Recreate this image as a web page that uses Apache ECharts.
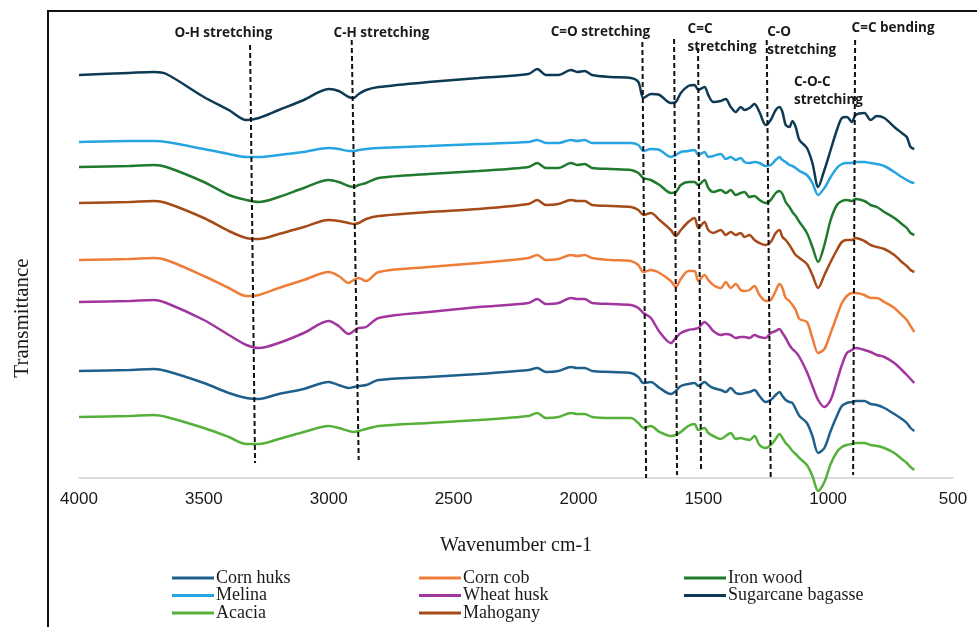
<!DOCTYPE html>
<html>
<head>
<meta charset="utf-8">
<title>FTIR spectra</title>
<script src="https://cdn.jsdelivr.net/npm/echarts@6/dist/echarts.min.js"></script>
<style>
  html, body { margin: 0; padding: 0; background: #fff; }
  #ftir_chart { width: 977px; height: 627px; }
</style>
</head>
<body>
<div id="ftir_chart"></div>
<script>
// wavenumbers (cm-1) shared by every spectrum
var wavenumbers = [
  4000, 3800, 3700, 3650, 3500, 3400, 3330, 3280, 3200, 3100,
  3000, 2960, 2920, 2900, 2880, 2850, 2800, 2600, 2400, 2200,
  2165, 2130, 2080, 2030, 2005, 1975, 1945, 1870, 1790, 1760,
  1740, 1710, 1675, 1630, 1610, 1590, 1560, 1535, 1520, 1495,
  1480, 1460, 1430, 1410, 1390, 1370, 1350, 1335, 1315, 1295,
  1275, 1250, 1230, 1210, 1195, 1183, 1170, 1155, 1143, 1130,
  1115, 1085, 1063, 1040, 1015, 990, 965, 945, 925, 905,
  890, 855, 830, 805, 775, 735, 705, 685, 670, 655
];

// transmittance (stacked, arbitrary units)
var sugarcaneBagasse = [
  403, 405, 406, 404, 381, 368, 358, 360, 368, 378,
  389, 387, 381, 380, 384, 388, 391, 396, 400, 404,
  409, 403, 403, 408, 406, 407, 403, 401, 400, 396,
  380, 384, 383, 375, 376, 385, 392, 393, 388, 391,
  383, 376, 377, 379, 371, 366, 371, 368, 370, 374,
  366, 353, 358, 368, 371, 366, 353, 351, 357, 351,
  338, 330, 315, 291, 308, 328, 348, 360, 361, 356,
  363, 365, 358, 362, 360, 351, 345, 341, 331, 329
];
var melina = [
  336, 337, 337, 336, 329, 324, 321, 321, 323, 326,
  330, 329, 327, 327, 328, 329, 330, 332, 334, 336,
  338, 335, 335, 338, 337, 338, 335, 335, 335, 333,
  327, 329, 328, 321, 323, 326, 327, 328, 323, 326,
  321, 322, 324, 319, 321, 318, 320, 316, 315, 316,
  315, 312, 313, 318, 321, 318, 316, 313, 312, 310,
  307, 303, 295, 283, 290, 301, 310, 314, 315, 315,
  316, 316, 315, 314, 312, 306, 301, 298, 296, 295
];
var ironWood = [
  311, 312, 313, 311, 296, 283, 278, 276, 281, 290,
  298, 296, 292, 291, 293, 295, 300, 304, 307, 311,
  315, 310, 310, 315, 313, 314, 310, 309, 308, 305,
  300, 298, 293, 285, 286, 293, 296, 296, 293, 298,
  290, 286, 288, 285, 288, 283, 285, 286, 281, 282,
  278, 275, 278, 285, 287, 284, 276, 271, 266, 262,
  256, 245, 231, 216, 233, 258, 273, 277, 278, 277,
  279, 277, 273, 271, 266, 260, 254, 250, 245, 243
];
var mahogany = [
  275, 276, 277, 275, 260, 247, 240, 239, 244, 251,
  258, 257, 255, 254, 255, 259, 262, 266, 269, 274,
  278, 273, 274, 278, 277, 277, 273, 272, 271, 268,
  263, 265, 258, 248, 242, 248, 256, 260, 250, 256,
  248, 245, 248, 243, 246, 243, 245, 241, 243, 238,
  235, 233, 236, 245, 248, 241, 238, 233, 228, 223,
  220, 214, 203, 190, 203, 216, 228, 236, 238, 238,
  240, 237, 233, 231, 229, 223, 216, 212, 208, 206
];
var cornCob = [
  218, 219, 220, 218, 202, 190, 182, 183, 190, 198,
  206, 202, 195, 198, 200, 197, 206, 211, 215, 220,
  223, 218, 219, 223, 222, 223, 220, 218, 217, 213,
  206, 208, 205, 197, 191, 199, 207, 207, 197, 203,
  198, 193, 190, 196, 190, 194, 188, 187, 188, 192,
  183, 177, 178, 187, 194, 190, 180, 177, 173, 168,
  159, 156, 140, 125, 129, 145, 162, 175, 182, 185,
  185, 183, 180, 180, 176, 170, 163, 158, 152, 146
];
var wheatHusk = [
  176, 177, 178, 175, 158, 143, 133, 130, 135, 145,
  157, 152, 144, 147, 150, 151, 160, 166, 171, 175,
  179, 174, 175, 180, 179, 179, 175, 174, 173, 170,
  165, 160, 146, 135, 140, 145, 148, 149, 150, 156,
  153, 147, 143, 144, 143, 140, 141, 141, 140, 143,
  141, 140, 145, 147, 149, 145, 140, 133, 129, 126,
  121, 106, 92, 78, 71, 78, 97, 113, 125, 128,
  130, 128, 126, 123, 121, 115, 108, 103, 99, 95
];
var cornHuks = [
  107, 108, 109, 107, 95, 85, 80, 79, 84, 89,
  96, 93, 90, 91, 92, 93, 98, 101, 104, 108,
  110, 106, 107, 111, 110, 110, 107, 106, 105, 101,
  95, 96, 90, 84, 87, 92, 94, 95, 92, 96,
  93, 90, 88, 86, 90, 85, 84, 85, 86, 88,
  82, 76, 78, 83, 86, 82, 78, 76, 75, 69,
  62, 55, 42, 25, 30, 47, 62, 72, 75, 76,
  77, 77, 74, 73, 70, 64, 59, 55, 50, 47
];
var acacia = [
  61, 62, 63, 61, 50, 41, 34, 34, 39, 46,
  52, 50, 47, 46, 47, 49, 52, 55, 58, 62,
  65, 60, 61, 65, 64, 64, 61, 60, 60, 55,
  50, 52, 46, 42, 43, 46, 52, 54, 48, 50,
  45, 42, 39, 42, 45, 39, 40, 39, 38, 42,
  33, 30, 33, 39, 44, 40, 35, 31, 27, 24,
  20, 13, 2, -13, -4, 14, 26, 31, 33, 34,
  35, 35, 33, 32, 30, 25, 19, 15, 11, 8
];

var xTicks = [4000, 3500, 3000, 2500, 2000, 1500, 1000, 500];

// dashed band markers: [top wavenumber, top value, bottom wavenumber, bottom value]
var bandLines = [
  [3315, 433, 3295, 15],
  [2908, 438, 2880, 18],
  [1744, 436, 1729, 0],
  [1617, 439, 1605, 3],
  [1521, 430, 1509, 8],
  [1246, 438, 1230, 0],
  [1039, 368, 1036, -2],
  [892, 438, 900, 3]
];
// band labels: [text, wavenumber, value, align]
var bandLabels = [
  ['O-H stretching', 3422, 445, 'center'],
  ['C-H stretching', 2789, 445, 'center'],
  ['C=O stretching', 1912, 446, 'center'],
  ['C=C\nstretching', 1565, 440, 'left'],
  ['C-O\nstretching', 1246, 437, 'left'],
  ['C=C bending', 908, 450, 'left'],
  ['C-O-C\nstretching', 1139, 387, 'left']
];

var spectra = [
  { name: 'Corn huks', values: cornHuks, color: '#1f5f8b' },
  { name: 'Corn cob', values: cornCob, color: '#ef7d3a' },
  { name: 'Iron wood', values: ironWood, color: '#1f7a2d' },
  { name: 'Melina', values: melina, color: '#27a5e0' },
  { name: 'Wheat husk', values: wheatHusk, color: '#a1369f' },
  { name: 'Sugarcane bagasse', values: sugarcaneBagasse, color: '#0f3a56' },
  { name: 'Acacia', values: acacia, color: '#55b13a' },
  { name: 'Mahogany', values: mahogany, color: '#a64a18' }
];

var ftirChart = echarts.init(document.getElementById('ftir_chart'));

var series = spectra.map(function (s) {
  return {
    name: s.name,
    type: 'line',
    data: wavenumbers.map(function (w, i) { return [w, s.values[i]]; }),
    showSymbol: false,
    smooth: 0.3,
    clip: false,
    color: s.color,
    lineStyle: { color: s.color, width: 2.5 },
    emphasis: { disabled: true },
    z: 3
  };
});

// dashed lines and their labels
series.push({
  name: 'bands',
  type: 'line',
  data: [],
  z: 5,
  markLine: {
    silent: true,
    symbol: 'none',
    label: { show: false },
    lineStyle: { color: '#111', width: 2, type: [5, 3] },
    data: bandLines.map(function (b) {
      return [{ coord: [b[0], b[1]] }, { coord: [b[2], b[3]] }];
    })
  },
  markPoint: {
    silent: true,
    symbol: 'rect',
    symbolSize: 1,
    itemStyle: { color: 'rgba(0,0,0,0)' },
    data: bandLabels.map(function (l) {
      return {
        coord: [l[1], l[2]],
        value: l[0],
        label: {
          show: true,
          formatter: l[0],
          position: l[3] === 'left' ? 'right' : 'inside',
          distance: 0,
          align: l[3],
          verticalAlign: 'middle',
          color: '#1a1a1a',
          fontFamily: 'Open Sans',
          fontWeight: 'bold',
          fontSize: 13.5,
          lineHeight: 18
        }
      };
    })
  }
});

// legend laid out as a 3-column grid, one entry per slot
var legendSlots = [
  ['Corn huks', 0, 0], ['Corn cob', 1, 0], ['Iron wood', 2, 0],
  ['Melina', 0, 1], ['Wheat husk', 1, 1], ['Sugarcane bagasse', 2, 1],
  ['Acacia', 0, 2], ['Mahogany', 1, 2]
];
var legendCols = [172, 419, 684];

var legends = legendSlots.map(function (slot) {
  return {
    data: [slot[0]],
    left: legendCols[slot[1]],
    top: 569 + slot[2] * 17.5,
    padding: 0,
    itemWidth: 42,
    itemHeight: 3,
    icon: 'rect',
    selectedMode: false,
    textStyle: {
      fontFamily: 'Liberation Serif',
      fontSize: 18,
      lineHeight: 18,
      color: '#1a1a1a',
      padding: [0, 0, 0, -3]
    }
  };
});

var option = {
  animation: false,
  grid: { left: 79, right: 24, top: 18, bottom: 149 },
  xAxis: {
    type: 'value',
    min: 500,
    max: 4000,
    interval: 500,
    inverse: true,
    name: 'Wavenumber cm-1',
    nameLocation: 'middle',
    nameGap: 58,
    nameTextStyle: { fontFamily: 'Liberation Serif', fontSize: 20, color: '#1a1a1a' },
    axisLine: { lineStyle: { color: '#d0d0d0', width: 1.5 } },
    axisTick: { show: false },
    splitLine: { show: false },
    axisLabel: {
      margin: 13,
      fontFamily: 'Liberation Sans',
      fontSize: 17,
      color: '#1a1a1a',
      customValues: xTicks,
      formatter: function (v) { return String(v); }
    }
  },
  yAxis: {
    type: 'value',
    min: 0,
    max: 460,
    show: false
  },
  legend: legends,
  graphic: [
    {
      type: 'rect',
      silent: true,
      shape: { x: 48, y: 11, width: 1000, height: 700 },
      style: { fill: 'none', stroke: '#111', lineWidth: 2 }
    },
    {
      type: 'text',
      silent: true,
      x: 22,
      y: 318,
      rotation: Math.PI / 2,
      style: {
        text: 'Transmittance',
        fontFamily: 'Liberation Serif',
        fontSize: 21,
        fill: '#1a1a1a',
        align: 'center',
        verticalAlign: 'middle'
      }
    }
  ],
  series: series
};

ftirChart.setOption(option);

window.addEventListener('resize', function () {
  if (ftirChart != null && ftirChart != undefined) {
    ftirChart.resize();
  }
});
</script>
</body>
</html>
